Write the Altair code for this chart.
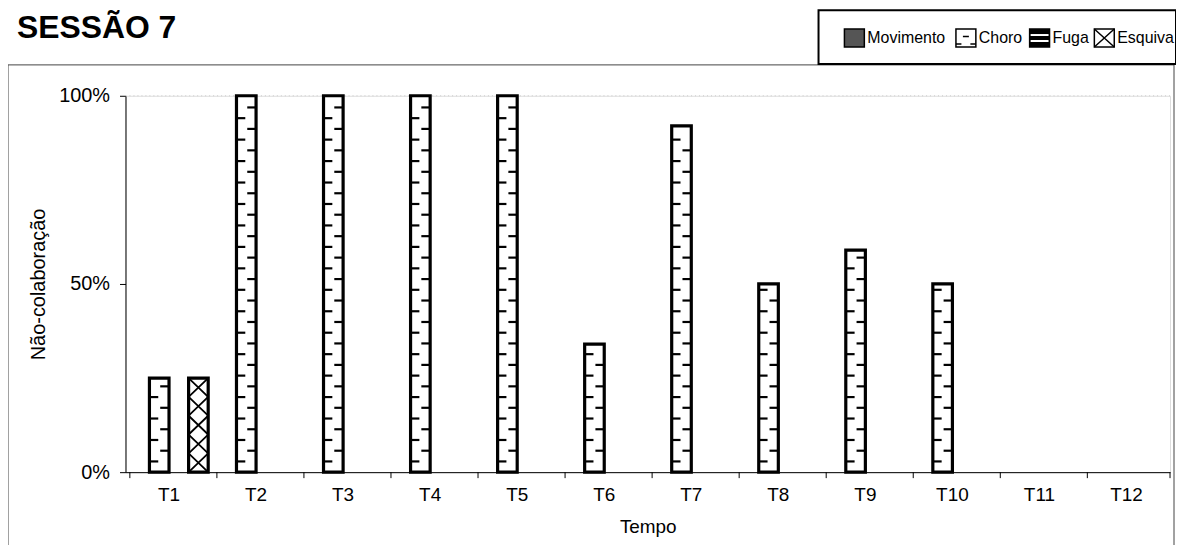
import altair as alt
import pandas as pd

# ---------------- data ----------------
categories = ["T1", "T2", "T3", "T4", "T5", "T6", "T7", "T8", "T9", "T10", "T11", "T12"]
series = ["Movimento", "Choro", "Fuga", "Esquiva"]
movimento = [0, 0, 0, 0, 0, 0, 0, 0, 0, 0, 0, 0]
choro = [25, 100, 100, 100, 100, 34, 92, 50, 59, 50, 0, 0]
fuga = [0, 0, 0, 0, 0, 0, 0, 0, 0, 0, 0, 0]
esquiva = [25, 0, 0, 0, 0, 0, 0, 0, 0, 0, 0, 0]
y_ticks = [0, 50, 100]
title_text = "SESSÃO 7"
x_title = "Tempo"
y_title = "Não-colaboração"

# ---------------- layout ----------------
W, H = 1049, 378
FONT = "Liberation Sans"

records = []
for name, vals in zip(series, [movimento, choro, fuga, esquiva]):
    for cat, v in zip(categories, vals):
        records.append({"T": cat, "serie": name, "valor": v / 100})
df = pd.DataFrame(records)
bars_df = df[df["valor"] > 0]

# hatch decoration derived from the values (Choro: alternating dashes, Esquiva: crosses)
dash_step = 0.0285
left_rows, right_rows = [], []
for cat, v in zip(categories, choro):
    k = 0
    while (k + 1) * dash_step < v / 100 - 0.012:
        row = {"T": cat, "serie": "Choro", "valor": (k + 1) * dash_step}
        (left_rows if k % 2 == 0 else right_rows).append(row)
        k += 1
cross_step = 0.05
cross_rows = []
for cat, v in zip(categories, esquiva):
    k = 0
    while (k + 1) * cross_step <= v / 100 + 1e-9:
        cross_rows.append({"T": cat, "serie": "Esquiva", "valor": (k + 0.5) * cross_step})
        k += 1

x_scale = alt.Scale(domain=categories, paddingInner=0.1, paddingOuter=0.05)
x_axis = alt.Axis(title=x_title, labelAngle=0, ticks=False, domainColor="black", domainWidth=1,
                  labelFont=FONT, labelFontSize=19, labelColor="black", labelPadding=13,
                  titleFont=FONT, titleFontSize=19, titleFontWeight="normal", titleColor="black",
                  titlePadding=14)
y_axis = alt.Axis(title=y_title, values=[t / 100 for t in y_ticks], format=".0%", grid=False,
                  domainColor="black", tickColor="black", tickSize=6,
                  labelFont=FONT, labelFontSize=20, labelColor="black", labelPadding=10,
                  titleFont=FONT, titleFontSize=20, titleFontWeight="normal", titleColor="black",
                  titleX=-77)
X = alt.X("T:N", sort=categories, scale=x_scale, axis=x_axis)
XO = alt.XOffset("serie:N", sort=series, scale=alt.Scale(domain=series))
Y = alt.Y("valor:Q", scale=alt.Scale(domain=[0, 1]), axis=y_axis)

one = alt.Data(values=[{"k": 1}])

frame = alt.Chart(one).mark_rect(fill="transparent", stroke="#444444", strokeWidth=1).encode(
    x=alt.value(-118), x2=alt.value(W + 4), y=alt.value(-31), y2=alt.value(H + 120))

grid = alt.Chart(one).mark_rule(color="#cccccc", strokeDash=[1, 3], strokeWidth=1).encode(
    x=alt.value(0), x2=alt.value(W), y=alt.Y(datum=1.0))

bars = alt.Chart(bars_df).mark_bar(fill="white", stroke="black", strokeWidth=3.2).encode(
    x=X, xOffset=XO, y=Y)

left_dash = alt.Chart(pd.DataFrame(left_rows)).mark_point(
    shape="M-1,0L-0.1,0", filled=False, stroke="black", strokeWidth=2.2, size=384, opacity=1).encode(
    x=X, xOffset=XO, y=Y)
right_dash = alt.Chart(pd.DataFrame(right_rows)).mark_point(
    shape="M0.1,0L1,0", filled=False, stroke="black", strokeWidth=2.2, size=384, opacity=1).encode(
    x=X, xOffset=XO, y=Y)
crosses = alt.Chart(pd.DataFrame(cross_rows)).mark_point(
    shape="M-1,-0.96L1,0.96M1,-0.96L-1,0.96", filled=False, stroke="black", strokeWidth=1.8,
    size=384, opacity=1).encode(x=X, xOffset=XO, y=Y)

tick_layer = alt.Chart(pd.DataFrame({"T": categories})).mark_rule(color="black").encode(
    x=alt.X("T:N", sort=categories, scale=x_scale, axis=x_axis, bandPosition=0),
    y=alt.value(H), y2=alt.value(H + 6))
end_tick = alt.Chart(one).mark_rule(color="black").encode(
    x=alt.value(W), y=alt.value(H), y2=alt.value(H + 6))

# ---------------- legend (drawn) ----------------
legend_layers = [
    alt.Chart(one).mark_rect(fill="white", stroke="black", strokeWidth=2).encode(
        x=alt.value(696), x2=alt.value(W + 6), y=alt.value(-86), y2=alt.value(-32)),
]
sw_y, sw_y2, txt_y = -67, -49, -58
sw_x = {"Movimento": 722, "Choro": 834, "Fuga": 908, "Esquiva": 973}
sw_w = 20
fills = {"Movimento": "#555555", "Choro": "white", "Fuga": "black", "Esquiva": "white"}
for name in series:
    x0 = sw_x[name]
    legend_layers.append(alt.Chart(one).mark_rect(fill=fills[name], stroke="black", strokeWidth=1.5).encode(
        x=alt.value(x0), x2=alt.value(x0 + sw_w), y=alt.value(sw_y), y2=alt.value(sw_y2)))
    legend_layers.append(alt.Chart(one).mark_text(
        text=name, font=FONT, fontSize=16, align="left", baseline="middle", color="black").encode(
        x=alt.value(x0 + sw_w + 3), y=alt.value(txt_y)))
cx = sw_x["Choro"] + sw_w / 2
legend_layers.append(alt.Chart(one).mark_point(
    shape="M-0.3,-0.15L0.3,-0.15M-1,0.6L-0.45,0.6M0.45,0.6L1,0.6", filled=False, stroke="black",
    strokeWidth=1.5, size=sw_w * sw_w, opacity=1).encode(x=alt.value(cx), y=alt.value(txt_y)))
fx = sw_x["Fuga"]
for yy in (-61, -55):
    legend_layers.append(alt.Chart(one).mark_rule(color="white", strokeWidth=2).encode(
        x=alt.value(fx + 1), x2=alt.value(fx + sw_w - 1), y=alt.value(yy)))
ex = sw_x["Esquiva"] + sw_w / 2
legend_layers.append(alt.Chart(one).mark_point(
    shape="M-1,-0.9L1,0.9M1,-0.9L-1,0.9", filled=False, stroke="black",
    strokeWidth=1.5, size=sw_w * sw_w, opacity=1).encode(x=alt.value(ex), y=alt.value(txt_y)))

title_layer = alt.Chart(one).mark_text(
    text=title_text, font=FONT, fontSize=32, fontWeight="bold", align="left",
    baseline="alphabetic", color="black").encode(x=alt.value(-109), y=alt.value(-58))

chart = alt.layer(
    frame, grid, bars, left_dash, right_dash, crosses, tick_layer, end_tick,
    *legend_layers, title_layer
).properties(
    width=W, height=H,
    autosize=alt.AutoSizeParams(type="none"),
    padding={"left": 118, "top": 87, "right": 6, "bottom": 72},
).configure_view(stroke=None).configure(background="white")

chart.save("out.html", embed_options={"renderer": "svg", "actions": False})
